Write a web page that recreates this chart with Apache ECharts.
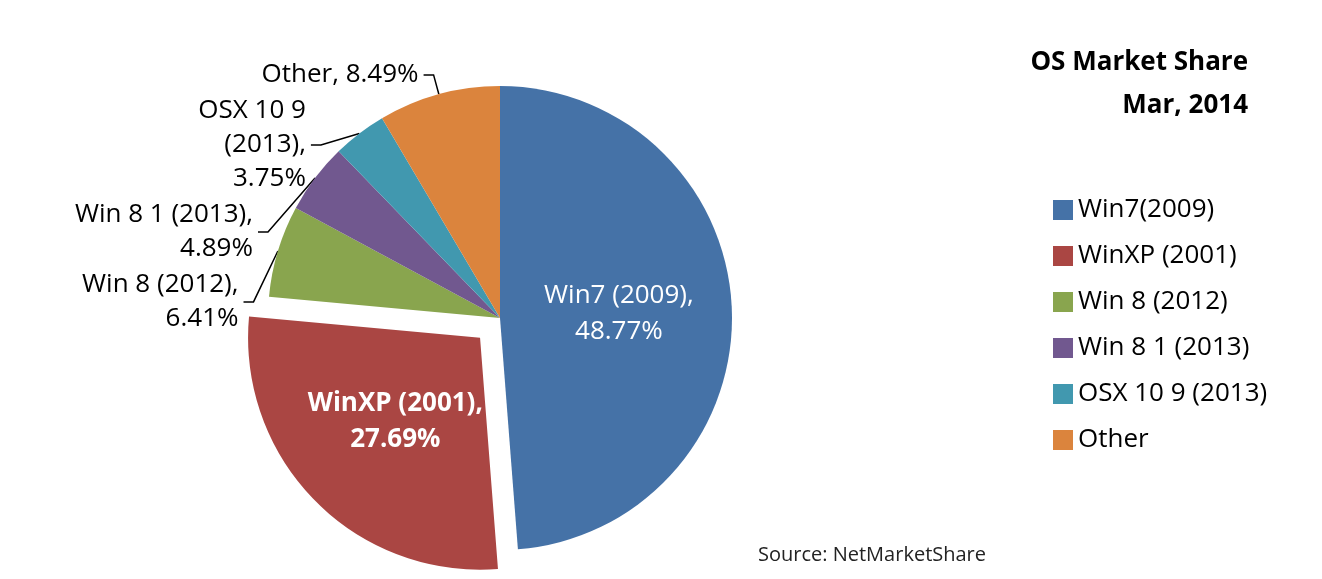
<!DOCTYPE html>
<html><head><meta charset="utf-8">
<script src="https://cdn.jsdelivr.net/npm/echarts@6/dist/echarts.min.js"></script>
<style>html,body{margin:0;padding:0;background:#fff}#c{width:1322px;height:579px}</style>
</head><body><div id="c"></div>
<script>
const categories = ['Win7 (2009)', 'WinXP (2001)', 'Win 8 (2012)', 'Win 8 1 (2013)', 'OSX 10 9 (2013)', 'Other'];
const legendNames = ['Win7(2009)', 'WinXP (2001)', 'Win 8 (2012)', 'Win 8 1 (2013)', 'OSX 10 9 (2013)', 'Other'];
const values = [48.77, 27.69, 6.41, 4.89, 3.75, 8.49];
const colors = ['#4572A7', '#AA4643', '#89A54E', '#71588F', '#4198AF', '#DB843D'];

const chart = echarts.init(document.getElementById('c'));
const font = '"Open Sans", "Noto Sans", sans-serif';
const data = values.map((v, i) => {
  const d = { name: legendNames[i], value: v, itemStyle: { color: colors[i] },
    label: { formatter: categories[i] + ',\n' + v.toFixed(2) + '%' } };
  if (i === 0) d.label = { position: 'inside', color: '#fff', fontSize: 26, formatter: 'Win7 (2009),\n48.77%', lineHeight: 36 };
  if (i === 1) { d.selected = true; d.label = { position: 'inside', color: '#fff', fontSize: 26, fontWeight: 'bold', formatter: 'WinXP (2001),\n27.69%', lineHeight: 36 }; }
  return d;
});
data[4].label.formatter = 'OSX 10 9\n(2013),\n3.75%';
data[5].label.formatter = 'Other, 8.49%';

chart.setOption({
  animation: false,
  textStyle: { fontFamily: font },
  title: [
    { text: 'OS Market Share', left: 1243, top: 45, textAlign: 'right',
      textStyle: { fontSize: 26, fontWeight: 'bold', color: '#000', fontFamily: font } },
    { text: 'Mar, 2014', left: 1243, top: 88, textAlign: 'right',
      textStyle: { fontSize: 26, fontWeight: 'bold', color: '#000', fontFamily: font } },
    { text: 'Source: NetMarketShare', left: 753, top: 540,
      textStyle: { fontSize: 20, fontWeight: 'normal', color: '#222', fontFamily: font } }
  ],
  legend: {
    orient: 'vertical', left: 1048, top: 192, itemGap: 20, itemWidth: 20, itemHeight: 20,
    icon: 'rect', textStyle: { fontSize: 26, color: '#000', fontFamily: font },
    data: legendNames
  },
  series: [{
    type: 'pie', center: [500, 318], radius: ['0%', 232], startAngle: 90, clockwise: true,
    selectedMode: 'single', selectedOffset: 28,
    label: { show: true, fontSize: 26, color: '#000', lineHeight: 34, fontFamily: font },
    labelLine: { show: true, length: 20, length2: 10, lineStyle: { color: '#000', width: 1.5 } },
    itemStyle: { borderWidth: 0 },
    data: data
  }]
});
</script></body></html>
